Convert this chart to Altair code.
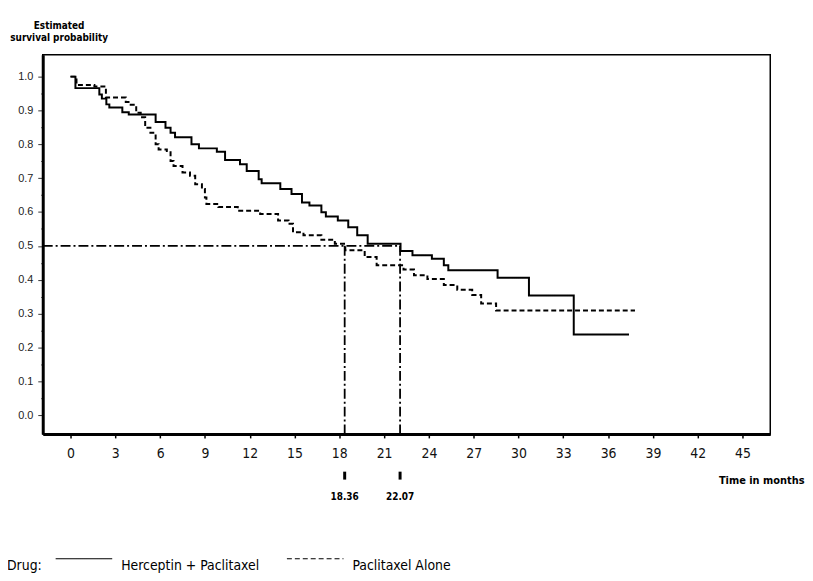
import altair as alt
import pandas as pd

# ---- data ----
drug_names = ["Herceptin + Paclitaxel", "Paclitaxel Alone"]

h_time = [0, 0.33, 1.93, 2.1, 2.4, 2.6, 3.47, 3.9, 5.7, 6.36, 6.7, 7.0, 8.1, 8.6, 9.8,
          10.35, 11.35, 11.8, 12.6, 12.8, 14.05, 14.8, 15.5, 16.0, 16.8, 17.1, 17.9,
          18.6, 19.2, 19.9, 22.1, 22.9, 24.2, 25.0, 25.3, 28.6, 30.7, 33.7, 37.4]
h_surv = [1.0, 0.966, 0.947, 0.935, 0.918, 0.909, 0.895, 0.888, 0.866, 0.849, 0.834, 0.821,
          0.80, 0.788, 0.778, 0.754, 0.741, 0.721, 0.697, 0.685, 0.668, 0.653, 0.628, 0.619,
          0.599, 0.587, 0.575, 0.555, 0.531, 0.506, 0.485, 0.472, 0.462, 0.443, 0.428,
          0.406, 0.353, 0.238, 0.238]

p_time = [0, 0.4, 1.6, 2.37, 3.7, 4.03, 4.4, 4.7, 5.0, 5.35, 5.7, 5.9, 6.45, 6.7, 6.9,
          7.5, 8.0, 8.35, 8.8, 9.0, 9.1, 9.9, 11.2, 12.7, 13.9, 14.6, 14.9, 15.6, 16.8,
          17.7, 18.4, 19.7, 20.5, 22.3, 23.0, 23.9, 25.0, 25.9, 26.9, 27.5, 28.5, 37.8]
p_surv = [1.0, 0.975, 0.971, 0.938, 0.925, 0.917, 0.893, 0.88, 0.849, 0.834, 0.80, 0.785,
          0.78, 0.751, 0.736, 0.717, 0.707, 0.682, 0.668, 0.643, 0.624, 0.615, 0.604,
          0.594, 0.575, 0.565, 0.54, 0.531, 0.518, 0.506, 0.487, 0.467, 0.443, 0.43,
          0.413, 0.402, 0.384, 0.37, 0.355, 0.33, 0.309, 0.309]

median_level = 0.5
medians = [18.36, 22.07]
median_labels = ["18.36", "22.07"]
legend_title = ["Drug:"]

x_ticks = list(range(0, 46, 3))
y_ticks = [round(i * 0.05, 2) for i in range(21)]
x_domain = [-1.86, 46.86]
y_domain = [-0.0557, 1.0645]

# ---- tables ----
curves = pd.DataFrame({
    "time": h_time + p_time,
    "surv": h_surv + p_surv,
    "drug": [drug_names[0]] * len(h_time) + [drug_names[1]] * len(p_time),
    "idx": list(range(len(h_time))) + list(range(len(p_time))),
})
hline = pd.DataFrame({"x": [x_domain[0]], "x2": [max(medians)], "y": [median_level]})
vlines = pd.DataFrame({"x": medians, "y": [median_level] * 2, "y2": [y_domain[0]] * 2,
                       "lab": median_labels})
legtitle = pd.DataFrame({"t": legend_title})

NARROW = "Liberation Sans Narrow, DejaVu Sans Condensed, Roboto Condensed, Roboto, sans-serif"
xs = alt.Scale(domain=x_domain, nice=False, zero=False)
ys = alt.Scale(domain=y_domain, nice=False, zero=False)

x_axis = alt.Axis(values=x_ticks, labelFont=NARROW, labelFontSize=14, labelColor="#111",
                  labelPadding=9, tickSize=4, tickColor="black", tickWidth=1.5,
                  domainWidth=3, domainColor="black", grid=False,
                  title="Time in months", titleFont=NARROW, titleFontWeight="bold",
                  titleFontSize=11, titleX=767, titleY=50, titleAlign="right",
                  titleBaseline="alphabetic", titleColor="black")
y_axis = alt.Axis(values=y_ticks,
                  labelExpr="round(datum.value*100) % 10 == 0 ? format(datum.value, '.1f') : ''",
                  labelFont="Liberation Sans, Arial, sans-serif", labelFontSize=11,
                  labelColor="#222", labelPadding=5,
                  tickSize={"condition": {"test": "round(datum.value*100) % 10 == 0", "value": 5},
                            "value": 2},
                  tickColor="#333", tickWidth=1,
                  domainWidth=3, domainColor="black", grid=False,
                  title=["Estimated", "survival probability"], titleAngle=0, titleX=16,
                  titleY=-26, titleAlign="center", titleBaseline="alphabetic",
                  titleFont=NARROW, titleFontWeight="bold", titleFontSize=10,
                  titleLineHeight=12, titleColor="black")

lines = alt.Chart(curves).mark_line(interpolate="step-after", color="black",
                                    strokeWidth=2, clip=False).encode(
    x=alt.X("time:Q", scale=xs, axis=x_axis),
    y=alt.Y("surv:Q", scale=ys, axis=y_axis),
    strokeDash=alt.StrokeDash(
        "drug:N",
        scale=alt.Scale(domain=drug_names, range=[[1, 0], [5, 3]]),
        legend=alt.Legend(orient="none", legendX=12, legendY=478, direction="horizontal",
                          title=None,
                          labelFont=NARROW, labelFontSize=14, labelColor="black",
                          labelBaseline="top",
                          symbolType="stroke", symbolSize=3249, symbolStrokeWidth=1.2,
                          symbolStrokeColor="black", labelOffset=8, columnPadding=24,
                          padding=0),
    ),
    order="idx:Q",
)

dashdot = [10, 3, 2, 3]
h_rule = alt.Chart(hline).mark_rule(color="black", strokeWidth=1.8, strokeDash=dashdot).encode(
    x=alt.X("x:Q", scale=xs, axis=x_axis), x2="x2:Q",
    y=alt.Y("y:Q", scale=ys, axis=y_axis))
v_rule = alt.Chart(vlines).mark_rule(color="black", strokeWidth=1.8, strokeDash=dashdot).encode(
    x=alt.X("x:Q", scale=xs, axis=x_axis),
    y=alt.Y("y:Q", scale=ys, axis=y_axis), y2="y2:Q")
markers = alt.Chart(vlines).mark_rule(color="black", strokeWidth=3).encode(
    x=alt.X("x:Q", scale=xs, axis=x_axis), y=alt.value(420), y2=alt.value(428))
mlabels = alt.Chart(vlines).mark_text(font=NARROW, fontWeight="bold", fontSize=10,
                                      baseline="alphabetic", color="black").encode(
    x=alt.X("x:Q", scale=xs, axis=x_axis), y=alt.value(449), text="lab:N")
drug_lbl = alt.Chart(legtitle).mark_text(font=NARROW, fontSize=14, align="left",
                                         baseline="top", color="black").encode(
    x=alt.value(-36), y=alt.value(508), text="t:N")

chart = alt.layer(lines, h_rule, v_rule, markers, mlabels, drug_lbl).properties(
    width=733, height=382,
    background="white",
    autosize=alt.AutoSizeParams(type="none"),
    padding={"left": 35, "top": 45, "right": 35, "bottom": 143},
).configure_view(stroke="black", strokeWidth=1.5)

chart.save("out.html", embed_options={"renderer": "svg", "actions": False})
